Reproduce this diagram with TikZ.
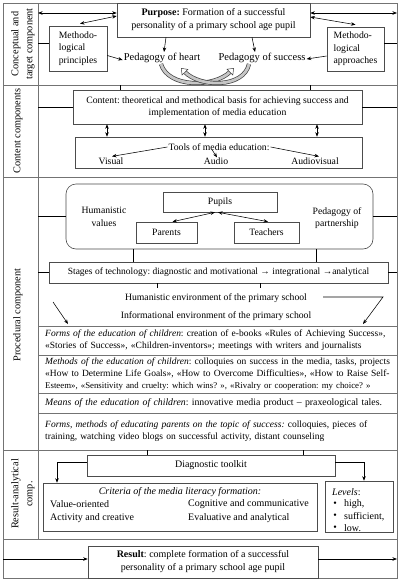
\documentclass[tikz,border=0pt]{standalone}
\usepackage{fontspec}
\setmainfont{Liberation Serif}
\usetikzlibrary{arrows.meta,calc}
\newcommand{\fszP}{\fontsize{10}{13}\selectfont}
\newcommand{\fszM}{\fontsize{9.7}{12.5}\selectfont}
\newcommand{\fszH}{\fontsize{10.5}{12}\selectfont}
\newcommand{\fszT}{\fontsize{9.5}{12}\selectfont}
\newcommand{\fszS}{\fontsize{9.5}{12}\selectfont}
\newcommand{\fszL}{\fontsize{10.3}{14}\selectfont}
\frenchspacing
\begin{document}
\frenchspacing
\begin{tikzpicture}[x=1pt,y=-1pt,
  box/.style={draw=black!70, line width=0.6pt, inner sep=0pt, align=center},
  sepline/.style={draw=black!55, line width=1pt},
  conn/.style={draw=black, line width=0.55pt},
  arr/.style={conn, -{Stealth[length=4.5pt,width=3.5pt]}},
  darr/.style={conn, {Stealth[length=4.5pt,width=3.5pt]}-{Stealth[length=4.5pt,width=3.5pt]}},
  txt/.style={inner sep=1pt, align=center},
  block/.style={inner sep=0pt, text width=350pt, align=left, anchor=west, font=\fszS},
  bandout/.style={line width=4.2pt, draw=black!75, shorten >=5pt},
  bandin/.style={line width=2.8pt, draw=gray!45, shorten >=5pt},
  bandtip/.style={line width=0.5pt, draw=gray!45, -{Triangle[color=black!75, fill=white, length=6pt, width=9pt]}},
]
\useasboundingbox (0,0) rectangle (400,581);
\fill[white] (0,0) rectangle (400,581);

% frame and separators
\draw[sepline] (3,3) rectangle (397,578);
\draw[sepline] (38,3) -- (38,539);
\draw[sepline] (3,85) -- (397,85);
\draw[sepline] (3,177) -- (397,177);
\draw[sepline] (3,450) -- (397,450);
\draw[sepline] (3,539) -- (397,539);
\draw[sepline] (38,326) -- (397,326);
\draw[sepline] (38,355) -- (397,355);
\draw[sepline] (38,393) -- (397,393);
\draw[sepline] (38,413) -- (397,413);

\coordinate (lc) at (38,0);
\coordinate (rc) at (397,0);

% labels
\node[txt, rotate=90, font=\fszL] (lab1) at (23,44) {Conceptual and\\target component};
\node[txt, rotate=90, font=\fszL] (lab2) at (18,131) {Content components};
\node[txt, rotate=90, font=\fszL] (lab3) at (18,315) {Procedural component};
\node[txt, rotate=90, font=\fszL] (lab4) at (23,494) {Result-analytical\\comp.};

% conceptual section
\node[box, minimum width=193pt, minimum height=34pt, font=\fszP] (purpose) at (213.5,20)
  {\textbf{Purpose:} Formation of a successful\\personality of a primary school age pupil};
\node[box, minimum width=58pt, minimum height=45pt, align=left, font=\fszM] (mprin) at (78,48.5)
  {Methodo-\\logical\\principles};
\node[box, minimum width=57pt, minimum height=44pt, align=left, font=\fszM] (mappr) at (355.5,49)
  {Methodo-\\logical\\approaches};
\node[txt, font=\fszH] (heart) at (162,58) {Pedagogy of heart};
\node[txt, font=\fszH] (success) at (262,58) {Pedagogy of success};

\coordinate (cl1) at (38,13);
\coordinate (cr1) at (397,13);
\coordinate (mpl) at (38,43);
\coordinate (mpr) at (397,43);
\draw[darr] (cl1) -- (cl1 -| purpose.west);
\draw[darr] (purpose.east |- cr1) -- (cr1);
\draw[darr] ([yshift=4pt]purpose.west) -- ([xshift=2pt,yshift=2pt]mprin.north);
\draw[darr] ([yshift=3pt]purpose.east) -- ([yshift=2pt]mappr.north);
\draw[arr] ([xshift=-47.5pt]purpose.south) -- ([xshift=2pt]heart.north);
\draw[arr] ([xshift=38.5pt]purpose.south) -- ([xshift=-7pt]success.north);
\draw[arr] ([yshift=-7pt]mprin.east) -- ([yshift=-2pt]heart.west);
\draw[arr] ([yshift=-7pt]mappr.west) -- ([yshift=-1pt]success.east);
\draw[conn] (mpl) -- (mpl -| mprin.west);
\draw[conn] (mappr.east |- mpr) -- (mpr);

% curved block arrows
\draw[bandout] ([xshift=-1pt]heart.south) .. controls (168,88) and (214,88) .. ([xshift=-28pt,yshift=-4pt]success.south);
\draw[bandin] ([xshift=-1pt]heart.south) .. controls (168,88) and (214,88) .. ([xshift=-28pt,yshift=-4pt]success.south);
\draw[bandtip] ([xshift=-1pt]heart.south) .. controls (168,88) and (214,88) .. ([xshift=-28pt,yshift=-4pt]success.south);
\draw[bandout] ([xshift=-13pt]success.south) .. controls (244,88) and (200,88) .. ([xshift=19pt,yshift=-4pt]heart.south);
\draw[bandin] ([xshift=-13pt]success.south) .. controls (244,88) and (200,88) .. ([xshift=19pt,yshift=-4pt]heart.south);
\draw[bandtip] ([xshift=-13pt]success.south) .. controls (244,88) and (200,88) .. ([xshift=19pt,yshift=-4pt]heart.south);

% content section
\node[box, minimum width=289pt, minimum height=34pt, font=\fszM] (content) at (217.5,107)
  {Content: theoretical and methodical basis for achieving success and\\implementation of media education};
\node[box, minimum width=287pt, minimum height=31pt] (tools) at (218.5,152.5) {};
\node[txt, font=\fszM] (toolsT) at (219,147) {Tools of media education:};
\node[txt, font=\fszM] (visual) at (111,161) {Visual};
\node[txt, font=\fszM] (audio) at (216,161) {Audio};
\node[txt, font=\fszM] (avis) at (315,161) {Audiovisual};
\coordinate (ct1) at (120,85);
\coordinate (ct2) at (310,85);
\draw[conn] (ct1) -- (ct1 |- content.north);
\draw[conn] (ct2) -- (ct2 |- content.north);
\draw[conn] (lc |- content.west) -- (content.west);
\draw[conn] (content.east) -- (rc |- content.east);
\draw[darr] ([xshift=-110.5pt]content.south) -- ([xshift=-111.5pt]tools.north);
\draw[darr] ([xshift=-12.5pt]content.south) -- ([xshift=-13.5pt]tools.north);
\draw[darr] ([xshift=99.5pt]content.south) -- ([xshift=98.5pt]tools.north);
\draw[arr] (toolsT.west) -- ([xshift=1pt]visual.north);
\draw[arr] ([xshift=-7pt,yshift=2pt]toolsT.south) -- ([xshift=1pt,yshift=-1pt]audio.north);
\draw[arr] (toolsT.east) -- ([xshift=4pt]avis.north);

% procedural section
\node[box, rounded corners=10pt, minimum width=307pt, minimum height=65pt] (pbox) at (219.5,216.5) {};
\node[txt, font=\fszM] (hum) at (104,217) {Humanistic\\values};
\node[txt, font=\fszM] (ppart) at (337,218) {Pedagogy of\\partnership};
\node[box, minimum width=114pt, minimum height=20pt, font=\fszM] (pupils) at (220,202) {Pupils};
\node[box, minimum width=61pt, minimum height=21pt, font=\fszM] (parents) at (166.5,232.5) {Parents};
\node[box, minimum width=65pt, minimum height=21pt, font=\fszM] (teachers) at (266.5,232.5) {Teachers};
\draw[darr] ([xshift=-5pt]pupils.south) -- ([xshift=6pt]parents.north);
\draw[darr] ([xshift=-2pt]pupils.south) -- ([xshift=1.5pt]teachers.north);
\draw[conn] (lc |- pbox.west) -- (pbox.west);
\draw[conn] (pbox.east) -- (rc |- pbox.east);

\node[box, minimum width=339pt, minimum height=21pt, font=\fszT] (stages) at (218.5,272.5)
  {Stages of technology: diagnostic and motivational → integrational →analytical};
\draw[conn] ([xshift=-86.5pt]pbox.south) -- ([xshift=-85.5pt]stages.north);
\draw[conn] ([xshift=96.5pt]pbox.south) -- ([xshift=97.5pt]stages.north);
\draw[conn] (lc |- stages.west) -- (stages.west);
\draw[conn] (stages.east) -- (rc |- stages.east);
\draw[conn] ([xshift=-61.5pt]stages.south) -- ++(0,5);
\draw[conn] ([xshift=41.5pt]stages.south) -- ++(0,5);

\node[txt, font=\fszM] (humenv) at (216,298) {Humanistic environment of the primary school};
\node[txt, font=\fszM] (infenv) at (216,316) {Informational environment of the primary school};
\coordinate (la) at (53,302);
\coordinate (lt) at (68,324);
\coordinate (ra1) at (323,297);
\coordinate (ra2) at (383,297);
\coordinate (rt) at (363,324);
\draw[arr] (la) -- (lt);
\draw[arr] (ra1) -- (ra2) -- (rt);

\node[block] (forms) at (45,340.5)
  {\makebox[350pt][s]{\textit{Forms of the education of children}: creation of e-books «Rules of Achieving Success»,}\\
   «Stories of Success», «Children-inventors»; meetings with writers and journalists};
\node[block] (methods) at (45,374)
  {\makebox[350pt][s]{\textit{Methods of the education of children}: colloquies on success in the media, tasks, projects}\\
   \makebox[350pt][s]{«How to Determine Life Goals», «How to Overcome Difficulties», «How to Raise Self-}\\
   {\fontsize{8.8}{12}\selectfont Esteem», «Sensitivity and cruelty: which wins? », «Rivalry or cooperation: my choice? »}};
\node[block, font=\fontsize{9.8}{12}\selectfont] (means) at (45,403)
  {\textit{Means of the education of children}: innovative media product – praxeological tales.};
\node[block] (parentsf) at (45,431.5)
  {\makebox[350pt][s]{\textit{Forms, methods of educating parents on the topic of success:} colloquies, pieces of}\\
   training, watching video blogs on successful activity, distant counseling};

% result-analytical section
\node[box, minimum width=248pt, minimum height=21pt, font=\fszP] (diag) at (211,465.5) {Diagnostic toolkit};
\coordinate (dt1) at (147,450);
\coordinate (dt2) at (303,450);
\draw[conn] (dt1) -- (dt1 |- diag.north);
\draw[conn] (dt2) -- (dt2 |- diag.north);
\node[box, minimum width=274pt, minimum height=48pt] (crit) at (180,507) {};
\node[box, minimum width=68pt, minimum height=51pt] (levels) at (359,506.5) {};
\draw[arr] ([yshift=3.5pt]diag.west) -| ([xshift=-123pt]crit.north);
\draw[arr] ([yshift=3.5pt]diag.east) -| ([xshift=5pt]levels.north);
\node[txt, font=\fszP] (critT) at (180,492) {\textit{Criteria of the media literacy formation:}};
\node[txt, font=\fszP, anchor=west] (c1) at (49,504.5) {Value-oriented};
\node[txt, font=\fszP, anchor=west] (c2) at (49,518) {Activity and creative};
\node[txt, font=\fszP, anchor=west] (c3) at (187,504.5) {Cognitive and communicative};
\node[txt, font=\fszP, anchor=west] (c4) at (187,518) {Evaluative and analytical};
\node[txt, font=\fszP, anchor=west] (lv0) at (331,492) {\textit{Levels}:};
\node[txt, font=\fszP] (b1) at (335,504.5) {•};
\node[txt, font=\fszP] (b2) at (335,516.5) {•};
\node[txt, font=\fszP] (b3) at (335,528.5) {•};
\node[txt, font=\fszP, anchor=west] (lv1) at (343,504.5) {high,};
\node[txt, font=\fszP, anchor=west] (lv2) at (343,516.5) {sufficient,};
\node[txt, font=\fszP, anchor=west] (lv3) at (343,528.5) {low.};

% result
\node[box, minimum width=230pt, minimum height=32pt, font=\fszP] (result) at (203,562)
  {\textbf{Result}: complete formation of a successful\\personality of a primary school age pupil};
\coordinate (bl1) at (3,559);
\coordinate (br1) at (397,559);
\draw[arr] (bl1) -- ([yshift=3pt]result.west);
\draw[arr] ([yshift=3pt]result.east) -- (br1);
\end{tikzpicture}
\end{document}
